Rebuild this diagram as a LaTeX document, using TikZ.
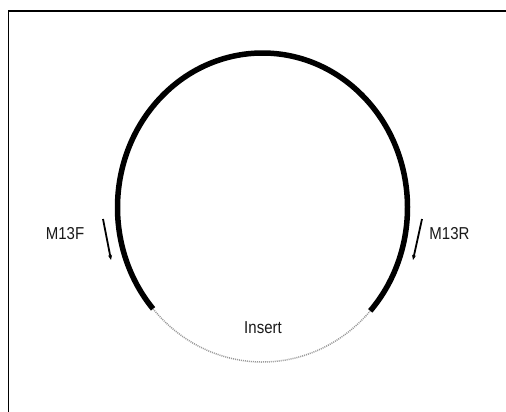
\documentclass[tikz,border=0pt]{standalone}
\usepackage{fontspec}
\setmainfont{Liberation Sans}
\usetikzlibrary{arrows.meta}
\begin{document}
\begin{tikzpicture}[x=1pt,y=-1pt,
  lbl/.style={font=\fontsize{15}{15}\selectfont, text=black!90, inner sep=0pt, yscale=1.15},
  primer/.style={line width=1.8pt, -{Stealth[length=5pt,width=4pt]}},
  vector/.style={line width=5.5pt},
  insertarc/.style={line width=1.5pt, gray!80, dash pattern=on 1pt off 1pt}]
\useasboundingbox (0,0) rectangle (506,412);
\fill[white] (0,0) rectangle (506,412);
\draw[line width=1.6pt] (8.5,420) -- (8.5,11) -- (520,11);
\coordinate (c) at (262.5,207.5);
% thick vector backbone
\draw[vector] (c) ++(-42:145 and -154.5) arc[start angle=-42, end angle=221, x radius=145, y radius=-154.5];
% insert (dotted)
\draw[insertarc] (c) ++(221:145 and -154.5) arc[start angle=221, end angle=318, x radius=145, y radius=-154.5];
\node[lbl] (ins) at (263,328) {Insert};
\node[lbl] (f) at (65,234) {M13F};
\node[lbl] (r) at (449.5,234) {M13R};
\coordinate (fa) at (103,219);
\coordinate (fb) at (111,260);
\coordinate (ra) at (422,219);
\coordinate (rb) at (413,260);
\draw[primer] (fa) -- (fb);
\draw[primer] (ra) -- (rb);
\end{tikzpicture}
\end{document}
